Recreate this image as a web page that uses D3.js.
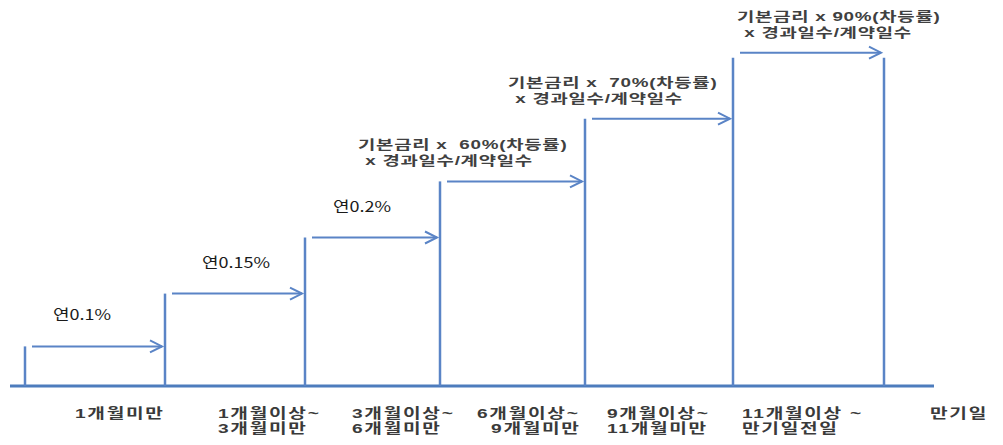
<!DOCTYPE html>
<html><head><meta charset="utf-8">
<script src="https://cdn.jsdelivr.net/npm/d3@7"></script>
<style>
body{margin:0;background:#fff}
text{font-family:"Noto Sans CJK KR","Noto Sans",sans-serif;white-space:pre}
text.pl, text.fl{font-family:"Liberation Sans","Noto Sans CJK KR",sans-serif}
</style>
</head><body>
<svg id="c" width="1003" height="445"></svg>
<script>
// ---- data ----
const boundaries = [0, 1, 2, 3, 4, 5, 6];                 // period boundaries
const lineTops   = [1.2, 2.8, 4.5, 6.2, 8.1, 9.95, 9.95];  // height of vertical line at each boundary
const arrowLevels = [1.2, 2.8, 4.5, 6.2, 8.1, 10.1];       // level of each period's arrow
const periodLabels = [
  ["1개월미만"],
  ["1개월이상~", "3개월미만"],
  ["3개월이상~", "6개월미만"],
  ["6개월이상~", "  9개월미만"],
  ["9개월이상~", "11개월미만"],
  ["11개월이상 ~", "만기일전일"],
  ["만기일"]
];
const rateLabels = ["연0.1%", "연0.15%", "연0.2%"];
const formulaLines1 = ["기본금리 x  60%(차등률)", "기본금리 x  70%(차등률)", "기본금리 x 90%(차등률)"];
const formulaLine2 = "x 경과일수/계약일수";

// ---- layout ----
const svg = d3.select("#c");
const x = d3.scaleLinear().domain(boundaries).range([25, 165, 305, 440, 585, 733, 884]);
const y = d3.scaleLinear().domain([0, 10]).range([386, 56]);
const labelOffsets = [50, 53, 47, 37, 22, 9, 46];
const rateOffsets = [28, 37, 28];
const formulaOffsets = [-82, -77, 4];
const blue = "#5a84c6";

// baseline
svg.append("line")
  .attr("x1", x(0) - 15).attr("x2", x(6) + 50)
  .attr("y1", y(0)).attr("y2", y(0))
  .attr("stroke", "#4d7cbd").attr("stroke-width", 3);

// vertical lines
svg.selectAll("line.v").data(boundaries).join("line")
  .attr("class", "v")
  .attr("x1", d => x(d)).attr("x2", d => x(d))
  .attr("y1", y(0)).attr("y2", (d, i) => y(lineTops[i]))
  .attr("stroke", blue).attr("stroke-width", 2.5);

// arrows
const arrows = svg.selectAll("g.arrow").data(arrowLevels).join("g").attr("class", "arrow");
arrows.append("line")
  .attr("x1", (d, i) => x(boundaries[i]) + 7)
  .attr("x2", (d, i) => x(boundaries[i + 1]) - 3)
  .attr("y1", d => y(d)).attr("y2", d => y(d))
  .attr("stroke", blue).attr("stroke-width", 2);
arrows.append("path")
  .attr("d", (d, i) => {
    const tx = x(boundaries[i + 1]) - 3, ty = y(d);
    return `M${tx - 12},${ty - 6}L${tx},${ty}L${tx - 12},${ty + 6}`;
  })
  .attr("fill", "none").attr("stroke", blue).attr("stroke-width", 2);

// period labels (one text per label, rows as tspans)
const pl = svg.selectAll("text.pl").data(periodLabels).join("text")
  .attr("class", "pl")
  .attr("transform", (d, i) => `translate(${x(boundaries[i]) + labelOffsets[i]},418) scale(1.42,1)`)
  .attr("font-size", 13.5).attr("font-weight", "bold")
  .attr("letter-spacing", 1.2)
  .attr("fill", "#3a3a3a");
pl.selectAll("tspan").data(d => d).join("tspan")
  .attr("x", 0)
  .attr("dy", (d, j) => j === 0 ? 0 : 15.2)
  .text(d => d);

// rate labels
svg.selectAll("text.rate").data(rateLabels).join("text")
  .attr("class", "rate")
  .attr("transform", (d, i) => `translate(${x(boundaries[i]) + rateOffsets[i]},${y(arrowLevels[i]) - 26}) scale(1.2,1)`)
  .attr("font-size", 15).attr("fill", "#1a1a1a")
  .text(d => d);

// formula labels
const fl = svg.selectAll("text.fl").data(formulaLines1).join("text")
  .attr("class", "fl")
  .attr("transform", (d, i) => `translate(${x(boundaries[i + 3]) + formulaOffsets[i]},${y(arrowLevels[i + 3]) - 32}) scale(1.45,1)`)
  .attr("font-size", 13).attr("font-weight", "bold").attr("letter-spacing", 0.5)
  .attr("fill", "#404040");
fl.append("tspan").attr("x", 0).text(d => d);
fl.append("tspan").attr("x", 5).attr("dy", 16).text(formulaLine2);
</script>
</body></html>
